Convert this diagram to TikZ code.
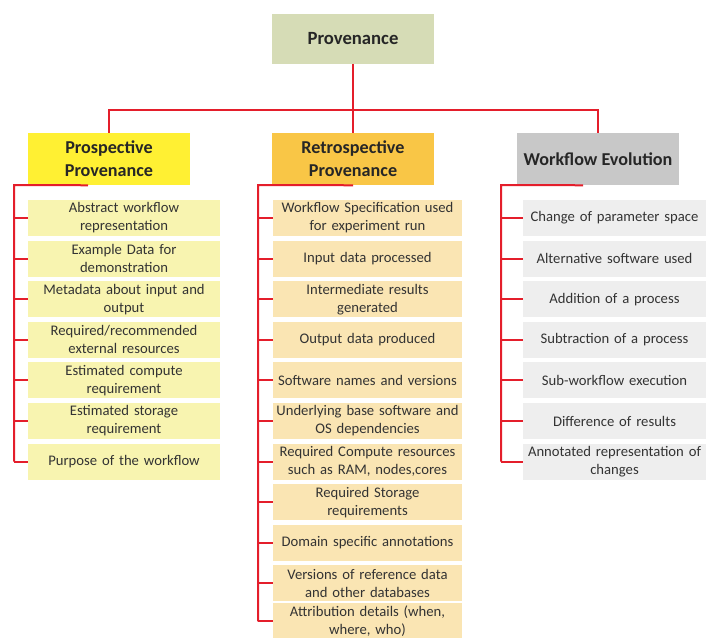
\documentclass[tikz,border=0pt]{standalone}
\usepackage{fontspec}
\setmainfont{Carlito}
\usepackage{xcolor}
\usetikzlibrary{positioning,calc}

\definecolor{rootfill}{HTML}{D6DCB6}
\definecolor{pphead}{HTML}{FFF033}
\definecolor{rphead}{HTML}{F9C646}
\definecolor{wehead}{HTML}{C8C8C8}
\definecolor{ppitemfill}{HTML}{F8F4B0}
\definecolor{rpitemfill}{HTML}{FAE5B3}
\definecolor{weitemfill}{HTML}{EEEEEE}
\definecolor{linkred}{HTML}{E41E2B}

\tikzset{
  link/.style={draw=linkred,line width=1.5pt},
  headbox/.style={minimum width=121.5pt,minimum height=39pt,inner sep=0pt,align=center,
    font=\fontsize{13.6}{17}\selectfont\bfseries,text=black!85},
  itembox/.style={minimum height=27pt,inner xsep=1pt,inner ysep=0pt,align=center,
    font=\fontsize{11}{13.5}\selectfont,text=black!80},
  ppitem/.style={itembox,fill=ppitemfill,text width=142pt},
  rpitem/.style={itembox,fill=rpitemfill,text width=139.75pt},
  weitem/.style={itembox,fill=weitemfill,text width=135.25pt},
}

\begin{document}
\begin{tikzpicture}[x=0.75pt,y=-0.75pt]
    \useasboundingbox (0,0) rectangle (706,637);
    % Root
    \node[headbox,fill=rootfill,minimum width=122pt,minimum height=37.5pt,
          font=\fontsize{14}{17}\selectfont\bfseries] (root) at (353,38.5) {Provenance};
    % Categories
    \node[headbox,fill=pphead] (pp) at (109,159) {Prospective\\Provenance};
    \node[headbox,fill=rphead] (rp) at (353,159) {Retrospective\\Provenance};
    \node[headbox,fill=wehead] (we) at (598,159) {Workflow Evolution};
    \coordinate (bus) at (353,110);
    \draw[link] (root.south) -- (rp.north);
    \draw[link] (pp.north) |- (bus) -| (we.north);
    % Prospective items
    \foreach \txt [count=\i] in {Abstract workflow\\representation,
        Example Data for\\demonstration,
        Metadata about input and\\output,
        Required/recommended\\external resources,
        Estimated compute\\requirement,
        Estimated storage\\requirement,
        Purpose of the workflow} {
        \node[ppitem] (pp\i) at (124,{218+40.6*(\i-1)}) {\txt};
    }
    % Retrospective items (last one nudged up to stay on the page)
    \foreach \txt [count=\i] in {Workflow Specification used\\for experiment run,
        Input data processed,
        Intermediate results\\generated,
        Output data produced,
        Software names and versions,
        Underlying base software and\\OS dependencies,
        Required Compute resources\\such as RAM{,} nodes{,}cores,
        Required Storage\\requirements,
        Domain specific annotations,
        Versions of reference data\\and other databases,
        Attribution details (when{,}\\where{,} who)} {
        \node[rpitem,yshift={(\i==11)*2}] (rp\i) at (367.5,{218+40.6*(\i-1)}) {\txt};
    }
    % Evolution items
    \foreach \txt [count=\i] in {Change of parameter space,
        Alternative software used,
        Addition of a process,
        Subtraction of a process,
        Sub-workflow execution,
        Difference of results,
        Annotated representation of\\changes} {
        \node[weitem] (we\i) at (614.5,{218+40.6*(\i-1)}) {\txt};
    }
    % Brackets
    \coordinate (ppknee) at (14,185);
    \coordinate (rpknee) at (258,185);
    \coordinate (weknee) at (501,185);
    \draw[link] ($(pp.south)+(-21,0)$) -- (ppknee) -- (ppknee |- pp7.west);
    \draw[link] (rp.south) -- (rpknee) -- (rpknee |- rp11.west);
    \draw[link] ($(we.south)+(-15,0)$) -- (weknee) -- (weknee |- we7.west);
    \foreach \i in {1,...,7} {
        \draw[link] (ppknee |- pp\i.west) -- (pp\i.west);
        \draw[link] (weknee |- we\i.west) -- (we\i.west);
    }
    \foreach \i in {1,...,11} {
        \draw[link] (rpknee |- rp\i.west) -- (rp\i.west);
    }
\end{tikzpicture}
\end{document}
